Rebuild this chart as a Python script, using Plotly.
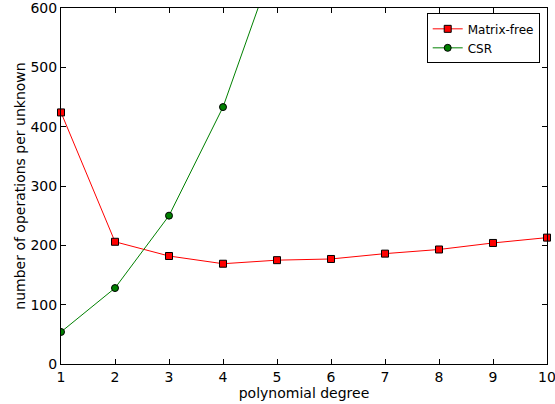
import plotly.graph_objects as go

degree = [1, 2, 3, 4, 5, 6, 7, 8, 9, 10]
matrix_free = [424, 206, 182, 169, 175, 177, 186, 193, 204, 213]
csr_degree = [1, 2, 3, 4, 5]
csr = [54, 128, 250, 433, 690]

fig = go.Figure()
fig.add_trace(go.Scatter(
    x=degree, y=matrix_free, mode="lines+markers", name="Matrix-free",
    line=dict(color="red", width=1),
    marker=dict(symbol="square", size=7, color="red", line=dict(color="black", width=1)),
    cliponaxis=False,
))
fig.add_trace(go.Scatter(
    x=csr_degree, y=csr, mode="lines+markers", name="CSR",
    line=dict(color="green", width=1),
    marker=dict(symbol="circle", size=7, color="green", line=dict(color="black", width=1)),
    cliponaxis=True,
))

axis_common = dict(
    showgrid=False, zeroline=False, showline=True, linecolor="black", linewidth=1,
    mirror="ticks", ticks="inside", ticklen=5, tickcolor="black", automargin=False,
    ticklabeloverflow="allow",
    tickfont=dict(family="DejaVu Sans", size=14, color="black"),
)
fig.update_xaxes(range=[1, 10], dtick=1, tick0=1,
                 title=dict(text="polynomial degree", font=dict(family="DejaVu Sans", size=14, color="black"), standoff=1),
                 **axis_common)
fig.update_yaxes(range=[0, 600], dtick=100,
                 title=dict(text="number of operations per unknown", font=dict(family="DejaVu Sans", size=14, color="black"), standoff=1),
                 **axis_common)

fig.update_layout(
    width=555, height=404,
    margin=dict(l=61, r=8, t=8, b=40),
    plot_bgcolor="white", paper_bgcolor="white",
    font=dict(family="DejaVu Sans", color="black"),
    legend=dict(x=0.985, y=0.985, xanchor="right", yanchor="top",
                bordercolor="black", borderwidth=1, bgcolor="white",
                font=dict(family="DejaVu Sans", size=12, color="black"),
                itemwidth=30, tracegroupgap=0),
    showlegend=True,
)

fig.write_html("out.html")
